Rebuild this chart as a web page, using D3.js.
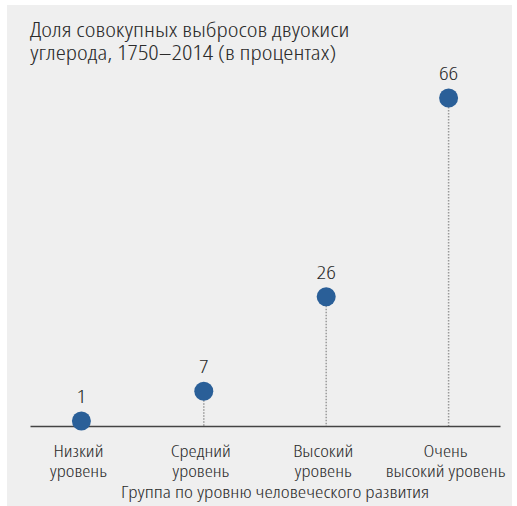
<!DOCTYPE html>
<html>
<head>
<meta charset="utf-8">
<script src="https://cdn.jsdelivr.net/npm/d3@7"></script>
<style>
html,body{margin:0;padding:0;background:#fff;}
svg{display:block;}
text{font-family:"Open Sans",sans-serif;font-stretch:75%;font-weight:300;fill:#2b2b2b;}
</style>
</head>
<body>
<svg id="chart" width="517" height="506"></svg>
<script>
const categories = ["Низкий\nуровень", "Средний\nуровень", "Высокий\nуровень", "Очень\nвысокий уровень"];
const values = [1, 7, 26, 66];
const titleLines = ["Доля совокупных выбросов двуокиси", "углерода, 1750–2014 (в процентах)"];
const xAxisTitle = "Группа по уровню человеческого развития";

const SX = 1.25; // horizontal widening of condensed font
const place = (sel, fx, fy) => sel.attr("transform", (d, i) => `translate(${fx(d, i)},${fy(d, i)}) scale(${SX},1)`);

const svg = d3.select("#chart");
svg.append("rect").attr("x", 7).attr("y", 5).attr("width", 505).attr("height", 501).attr("fill", "#efefef");

const x = d3.scalePoint().domain(categories).range([30, 500]).padding(0.42);
const y = d3.scaleLinear().domain([0, 66]).range([426, 98]);

// title
place(svg.selectAll("text.title").data(titleLines).join("text").attr("class", "title")
  .attr("font-size", 20.5).text(d => d), () => 30, (d, i) => 37 + i * 23);

// stems
svg.selectAll("line.stem").data(values).join("line").attr("class", "stem")
  .attr("x1", (d, i) => x(categories[i])).attr("x2", (d, i) => x(categories[i]))
  .attr("y1", d => y(d)).attr("y2", y(0))
  .attr("stroke", "#999").attr("stroke-width", 1.5).attr("stroke-dasharray", "1.5,1.5");

// axis
const axis = svg.append("g").attr("transform", `translate(0,${y(0)})`)
  .call(d3.axisBottom(x).tickSize(0).tickFormat(""));
axis.select(".domain").attr("stroke", "#444").attr("stroke-width", 1.6);

// category labels
const catLines = categories.flatMap(c => c.split("\n").map((s, i) => ({c, s, i})));
place(svg.append("g").selectAll("text").data(catLines).join("text")
  .attr("text-anchor", "middle").attr("font-size", 16.5).text(d => d.s),
  d => x(d.c) - 3, d => 457 + d.i * 20);

place(svg.append("text").datum(xAxisTitle).attr("text-anchor", "middle").attr("font-size", 17).text(d => d),
  () => 275, () => 498);

// dots
svg.selectAll("circle.dot").data(values).join("circle").attr("class", "dot")
  .attr("cx", (d, i) => x(categories[i])).attr("cy", d => y(d)).attr("r", 9.5)
  .attr("fill", "#2a5f98");

// value labels
place(svg.selectAll("text.val").data(values).join("text").attr("class", "val")
  .attr("text-anchor", "middle").attr("font-size", 19).text(d => d),
  (d, i) => x(categories[i]), d => y(d) - 18);
</script>
</body>
</html>
